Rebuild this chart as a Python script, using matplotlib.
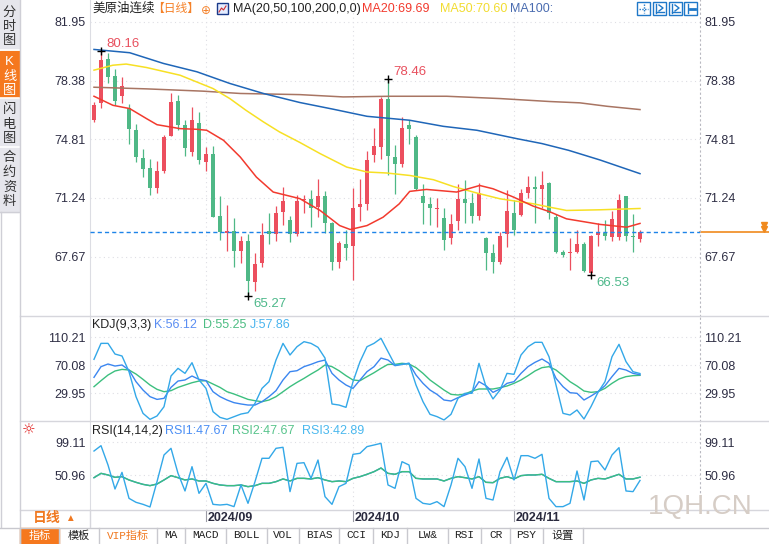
import numpy as np
import matplotlib.pyplot as plt
from matplotlib.patches import Rectangle
from matplotlib.lines import Line2D

plt.rcParams['font.family'] = ['Liberation Sans', 'Noto Sans CJK SC', 'DejaVu Sans']

# daily candles, 美原油连续, Aug - Nov 2024
opens = [75.97, 76.99, 79.69, 78.65, 77.45, 76.74, 75.36, 73.67, 73.06, 71.84,
         72.86, 74.99, 77.13, 75.66, 74.04, 75.81, 73.43, 73.93, 70.17, 69.12,
         69.20, 68.00, 68.65, 66.10, 67.26, 69.20, 69.05, 70.37, 69.87, 69.05,
         71.10, 71.19, 70.68, 71.39, 69.73, 67.33, 68.44, 68.30, 70.68, 70.87,
         73.85, 74.34, 77.25, 73.73, 73.28, 75.66, 74.95, 71.39, 70.85, 70.54,
         70.03, 68.79, 69.83, 71.19, 70.93, 70.17, 68.81, 67.87, 67.33, 69.05,
         70.32, 70.21, 71.54, 71.90, 71.76, 72.17, 70.11, 67.98, 67.88, 67.98,
         68.45, 66.66, 68.99, 69.12, 68.85, 68.89, 71.35, 68.95, 68.75]
highs = [77.09, 80.16, 80.05, 79.06, 78.61, 76.95, 75.72, 74.24, 73.63, 73.47,
         75.05, 77.60, 77.49, 75.97, 76.78, 76.48, 74.34, 74.38, 71.39, 70.84,
         70.03, 68.90, 69.05, 67.87, 69.71, 70.30, 70.78, 71.90, 70.17, 71.45,
         71.40, 71.74, 72.37, 71.64, 69.77, 68.60, 69.30, 71.86, 72.41, 74.10,
         75.52, 77.39, 78.46, 74.44, 76.17, 75.97, 75.05, 72.06, 71.29, 71.23,
         70.62, 70.27, 72.06, 72.31, 71.54, 72.15, 68.89, 68.44, 69.16, 71.74,
         71.09, 71.80, 72.59, 72.55, 72.88, 72.21, 70.28, 68.10, 68.81, 69.30,
         68.55, 68.99, 69.71, 69.87, 70.42, 71.50, 71.39, 70.24, 69.26]
lows = [75.87, 76.72, 78.21, 76.88, 76.99, 74.55, 73.43, 72.51, 71.43, 71.54,
        72.76, 74.99, 75.40, 73.77, 73.77, 73.33, 72.88, 70.07, 68.69, 68.04,
        67.06, 67.26, 65.27, 65.56, 67.02, 68.45, 68.60, 69.60, 68.55, 68.90,
        70.30, 69.46, 70.07, 69.10, 66.88, 66.96, 67.47, 66.25, 69.83, 70.48,
        73.43, 73.63, 72.65, 71.50, 73.12, 74.55, 71.70, 69.66, 69.60, 69.46,
        68.10, 68.44, 69.26, 69.70, 69.70, 69.87, 66.86, 66.65, 67.22, 68.28,
        69.01, 70.17, 71.25, 69.70, 70.62, 69.97, 67.88, 67.67, 66.86, 67.90,
        66.72, 66.53, 68.30, 68.70, 68.60, 68.69, 68.60, 67.98, 68.55]
closes = [76.88, 79.63, 78.61, 77.15, 78.04, 75.44, 73.73, 73.02, 71.84, 72.86,
          74.95, 77.09, 75.66, 74.28, 75.97, 73.57, 73.93, 70.11, 69.16, 69.20,
          68.04, 68.60, 66.17, 67.22, 69.01, 69.05, 70.30, 71.03, 69.05, 71.03,
          71.20, 70.64, 71.39, 69.71, 67.33, 68.50, 68.20, 70.64, 70.89, 73.57,
          74.38, 77.25, 73.77, 73.28, 75.48, 75.44, 71.76, 70.93, 70.62, 70.64,
          68.71, 69.63, 71.19, 70.93, 70.17, 71.56, 67.87, 67.33, 68.95, 70.42,
          69.26, 71.56, 71.90, 71.80, 72.04, 70.34, 67.98, 67.79, 67.90, 68.45,
          66.82, 68.95, 69.12, 68.91, 69.97, 71.09, 68.95, 68.85, 69.15]

# moving averages, sampled at candle positions
ma20_x = [0, 2.7, 5.1, 7.5, 9, 12.3, 14.7, 16.1, 18.5, 20.9, 23.2, 25.6, 29.4, 32.3,
          35.1, 36.6, 39, 41.3, 43.6, 45.1, 47.5, 51.8, 55.1, 57, 59.9, 62.7, 65.1,
          67.5, 72.3, 76.1, 78]
ma20_y = [77.43, 76.88, 76.68, 76.07, 75.70, 75.46, 75.42, 75.36, 74.75, 73.73, 72.51,
          71.60, 71.20, 70.48, 69.56, 69.32, 69.56, 70.07, 70.88, 71.64, 71.76, 71.60,
          72.00, 71.80, 71.30, 70.75, 70.40, 69.97, 69.63, 69.46, 69.69]
ma50_x = [0, 2.7, 4.6, 7.5, 12.3, 17, 19.4, 21.7, 24.2, 26.5, 29.4, 32.3, 36.1, 39,
          41.8, 45.1, 48.5, 51.3, 54.7, 58, 62.7, 65.1, 67.5, 72.3, 78]
ma50_y = [79.02, 79.32, 79.39, 79.18, 78.71, 77.90, 77.29, 76.58, 75.87, 75.26, 74.62,
          73.94, 73.12, 72.82, 72.76, 72.61, 72.35, 71.94, 71.54, 71.19, 70.89, 70.68,
          70.48, 70.52, 70.60]
ma100_x = [0, 5.1, 9.9, 14.7, 19.4, 24.2, 29.4, 34.2, 39, 45.1, 49.9, 54.7, 60.4, 64,
           67.8, 72.3, 78]
ma100_y = [80.28, 80.08, 79.43, 78.92, 78.21, 77.60, 77.05, 76.64, 76.21, 75.97, 75.60,
           75.36, 74.85, 74.55, 74.14, 73.55, 72.72]
ma200_x = [0, 7.5, 15.6, 20.9, 29.4, 35.6, 42.3, 50.4, 58, 65.1, 69.4, 73.3, 78]
ma200_y = [77.98, 77.88, 77.74, 77.60, 77.53, 77.39, 77.43, 77.43, 77.29, 77.11, 77.03,
           76.82, 76.62]

# KDJ(9,3,3)
k_vals = [52.4, 67.7, 71.5, 68.6, 70.1, 62.9, 46.2, 34.2, 24.7, 20.8,
          22.3, 38.0, 47.1, 48.6, 54.3, 49.5, 47.6, 31.8, 24.7, 19.9,
          16.1, 14.2, 12.7, 12.7, 17.5, 24.7, 33.3, 48.6, 60.5, 61.9,
          67.7, 71.0, 74.8, 77.2, 58.1, 48.6, 41.4, 36.6, 48.6, 60.5,
          67.7, 80.0, 77.2, 69.1, 71.0, 72.5, 55.7, 43.8, 34.2, 28.0,
          19.9, 18.5, 23.3, 27.1, 30.9, 46.2, 40.4, 30.9, 35.7, 43.8,
          46.2, 58.1, 67.7, 73.9, 78.7, 72.5, 51.0, 39.0, 30.4, 29.5,
          19.9, 25.6, 31.9, 40.4, 53.4, 65.3, 62.9, 58.1, 56.12]
d_vals = [39.0, 47.6, 55.7, 61.5, 63.8, 62.9, 57.1, 49.5, 41.4, 35.2,
          31.8, 33.3, 38.0, 41.4, 44.7, 47.1, 47.6, 42.8, 38.0, 31.8,
          28.5, 24.7, 20.8, 18.9, 17.5, 19.9, 24.7, 31.8, 39.0, 45.2,
          50.9, 57.1, 62.9, 70.1, 67.7, 61.9, 54.8, 48.6, 47.6, 53.4,
          59.0, 65.3, 71.0, 71.0, 72.5, 71.5, 66.3, 58.1, 48.6, 41.4,
          34.2, 28.0, 27.1, 28.5, 32.8, 35.7, 35.7, 35.7, 37.6, 40.0,
          43.8, 48.6, 54.8, 61.5, 66.3, 67.7, 62.9, 54.8, 46.2, 40.0,
          32.8, 30.9, 31.9, 36.6, 43.8, 50.0, 53.4, 54.8, 55.25]
j_vals = [78.2, 101.1, 101.1, 85.8, 83.0, 60.5, 24.7, 0.8, -7.8, -3.0,
          10.3, 54.3, 65.3, 58.1, 73.4, 48.6, 36.6, 3.2, -5.0, -7.8,
          -4.0, -0.2, 1.7, 15.1, 36.6, 46.2, 77.2, 101.1, 84.4, 96.3,
          103.5, 101.1, 95.4, 80.0, 14.2, 12.7, 9.4, 46.2, 74.8, 96.3,
          101.1, 108.3, 89.2, 70.1, 71.0, 72.5, 41.4, 17.5, -0.6, -3.9,
          -8.7, -0.6, 22.3, 29.5, 29.5, 72.5, 39.0, 21.4, 34.2, 58.1,
          56.7, 84.4, 96.3, 102.6, 102.6, 82.0, 41.4, 0.8, -1.6, 5.6,
          -7.3, 10.4, 30.9, 46.2, 82.0, 99.7, 74.9, 60.5, 57.86]

# RSI(14,14,2): RSI1 and RSI2 are both 14-day, RSI3 is 2-day
rsi_14 = [47.0, 53.4, 51.0, 47.5, 48.5, 43.6, 40.1, 37.1, 35.2, 37.6,
          43.6, 50.0, 47.0, 43.6, 45.1, 42.1, 42.1, 38.6, 36.2, 35.2,
          35.2, 36.2, 33.7, 35.2, 38.6, 38.6, 41.1, 45.1, 42.1, 46.0,
          46.0, 45.1, 47.0, 43.6, 41.1, 42.1, 41.1, 46.0, 48.5, 52.0,
          55.9, 61.3, 53.4, 52.0, 55.9, 55.9, 46.0, 45.1, 45.1, 45.1,
          42.1, 46.0, 48.5, 47.0, 45.1, 48.5, 40.1, 39.6, 46.0, 48.5,
          45.1, 50.0, 51.0, 51.0, 52.0, 46.0, 41.1, 41.1, 41.1, 42.1,
          38.6, 43.6, 46.0, 45.1, 48.5, 52.0, 45.1, 45.1, 47.67]
rsi_2 = [86.5, 94.4, 65.8, 30.2, 54.9, 16.4, 10.5, 7.5, 3.6, 41.1,
         80.6, 90.5, 53.4, 27.3, 63.3, 23.8, 38.6, 7.5, 6.5, 7.5,
         4.1, 36.2, 9.0, 41.1, 75.7, 75.7, 90.5, 92.0, 26.3, 68.2,
         69.2, 46.0, 73.2, 18.9, 7.5, 33.7, 38.6, 81.6, 83.1, 93.0,
         95.4, 97.9, 36.2, 31.2, 70.7, 65.8, 16.4, 9.0, 7.5, 11.5,
         4.1, 36.2, 75.7, 63.3, 31.2, 74.7, 16.4, 13.9, 55.9, 77.1,
         43.6, 79.6, 79.6, 75.7, 81.6, 16.4, 4.1, 4.1, 9.0, 56.9,
         13.9, 70.7, 71.7, 58.4, 80.6, 91.5, 27.3, 26.3, 42.89]

price_ticks = [81.95, 78.38, 74.81, 71.24, 67.67]
kdj_ticks = [110.21, 70.08, 29.95]
rsi_ticks = [99.11, 50.96]
month_idx = [16, 37, 60]
month_labels = ['2024/09', '2024/10', '2024/11']
marked_highs = [1, 42]
marked_lows = [22, 71]

W, H = 769, 544
RED = '#ec4f5e'
GREEN = '#4fb886'
GRID = '#dedee4'

fig = plt.figure(figsize=(W / 100, H / 100), dpi=100)
fig.patch.set_facecolor('white')


def box(x0, y0, x1, y1):
    # pixel box -> figure fractions
    return [x0 / W, 1 - y1 / H, (x1 - x0) / W, (y1 - y0) / H]


def ftext(x, y, s, **kw):
    kw.setdefault('va', 'center')
    fig.text(x / W, 1 - y / H, s, **kw)


def fline(xs, ys, **kw):
    fig.add_artist(Line2D([x / W for x in xs], [1 - y / H for y in ys],
                          transform=fig.transFigure, **kw))


def frect(x0, y0, x1, y1, **kw):
    fig.add_artist(Rectangle((x0 / W, 1 - y1 / H), (x1 - x0) / W, (y1 - y0) / H,
                             transform=fig.transFigure, **kw))


XLIM = (-4 / 7, 606 / 7)


def panel(y0, y1, ylim, ticks):
    ax = fig.add_axes(box(90, y0, 700, y1))
    ax.set_xlim(*XLIM)
    ax.set_ylim(*ylim)
    ax.set_xticks([])
    ax.set_yticks(ticks)
    ax.set_yticklabels(['%.2f' % t for t in ticks])
    ax.tick_params(axis='y', length=0, pad=3, labelsize=9, labelcolor='#2e2e44',
                   labelleft=True, labelright=True)
    ax.spines['top'].set_visible(False)
    ax.spines['bottom'].set_visible(False)
    ax.spines['left'].set_color('#dcdde3')
    ax.spines['right'].set_color('#b8b8c0')
    ax.spines['right'].set_linestyle((0, (1, 3)))
    for t in ticks:
        ax.axhline(t, color=GRID, lw=0.8, ls=(0, (1, 3)), zorder=0)
    for m in month_idx:
        ax.axvline(m, color=GRID, lw=0.8, ls=(0, (1, 3)), zorder=0)
    ax.patch.set_alpha(0)
    return ax


# ---- main candle panel ----
ax = panel(0, 316, (64.056, 83.289), price_ticks)
idx = np.arange(len(closes))
o = np.array(opens)
c = np.array(closes)
colors = np.where(c >= o, RED, GREEN)
ax.vlines(idx, lows, highs, colors=colors, lw=0.9, zorder=2)
ax.bar(idx, np.maximum(np.abs(c - o), 0.06), bottom=np.minimum(o, c), width=0.7,
       color=colors, linewidth=0, zorder=3)

ax.plot(ma200_x, ma200_y, color='#a87563', lw=1.1, zorder=4)
ax.plot(ma100_x, ma100_y, color='#1f66b8', lw=1.1, zorder=4)
ax.plot(ma50_x, ma50_y, color='#f7e024', lw=1.1, zorder=4)
ax.plot(ma20_x, ma20_y, color='#f23a2e', lw=1.1, zorder=4)

last = closes[-1]
ax.axhline(last, color='#1e84e8', lw=1, ls=(0, (3, 2.2)), zorder=5)
ax.plot([XLIM[1], XLIM[1] + 10], [last, last], color='#f08a1e', lw=1.2, clip_on=False)
ax.plot([95.7, 95.7], [last + 0.42, last + 0.18], 'v', color='#f08a1e', ms=4, clip_on=False)

for i in marked_highs:
    ax.plot(i, highs[i], '+', color='black', ms=6, mew=1, zorder=6)
    ax.annotate('%.2f' % highs[i], (i, highs[i]), xytext=(5, 7), textcoords='offset pixels',
                color='#e8505e', fontsize=9.5, ha='left', va='center')
for i in marked_lows:
    ax.plot(i, lows[i], '+', color='black', ms=6, mew=1, zorder=6)
    ax.annotate('%.2f' % lows[i], (i, lows[i]), xytext=(5, -8), textcoords='offset pixels',
                color='#4db88a', fontsize=9.5, ha='left', va='center')

# ---- KDJ panel ----
axk = panel(316, 421, (-10.18, 140.31), kdj_ticks)
axk.plot(idx, d_vals, color='#3cbf7f', lw=1)
axk.plot(idx, k_vals, color='#3b86f0', lw=1)
axk.plot(idx, j_vals, color='#33a8e8', lw=1)

# ---- RSI panel ----
axr = panel(421, 510, (-0.89, 130.96), rsi_ticks)
axr.plot(idx, rsi_14, color='#3b86f0', lw=1)
axr.plot(idx, rsi_14, color='#3cbf7f', lw=1)
axr.plot(idx, rsi_2, color='#33a8e8', lw=1)

# ---- date row ----
axd = fig.add_axes(box(90, 510, 700, 527))
axd.set_xlim(*XLIM)
axd.set_ylim(0, 1)
axd.axis('off')
for m, lab in zip(month_idx, month_labels):
    axd.axvline(m, ymin=0.35, ymax=1, color='#9a9aa4', lw=0.8)
    axd.text(m + 0.2, 0.55, lab, fontsize=9, fontweight='bold', color='#2a2a3e',
             ha='left', va='center')

ftext(700, 507, '1QH.CN', fontsize=20, color='#d6cdc6', ha='center')

# ---- legends ----
ftext(92, 9, '美原油连续', fontsize=9, color='#222222')
ftext(152, 9, '【日线】', fontsize=8.5, color='#f5822a')
ftext(201, 10, '⊕', fontsize=8.5, color='#f5822a', family='DejaVu Sans')
frect(217, 3, 228, 14, facecolor='#e4ecff', edgecolor='#1a3a8a', lw=1)
fline([219, 221.5, 223.5, 226], [12, 8, 10, 6], color='#d03030', lw=0.8)
ftext(233, 9, 'MA(20,50,100,200,0,0)', fontsize=9, color='#222222')
ftext(362, 9, 'MA20:%.2f' % ma20_y[-1], fontsize=9, color='#f23a2e')
ftext(440, 9, 'MA50:%.2f' % ma50_y[-1], fontsize=9, color='#f2dc30')
ftext(510, 9, 'MA100:', fontsize=9, color='#4a6cb0')

for x0 in [637, 653, 669, 684]:
    frect(x0, 2, x0 + 13, 15, facecolor='white', edgecolor='#1f78c8', lw=1)
fline([643.5, 643.5], [4, 13], color='#1f78c8', lw=1, ls=(0, (1, 1)))
fline([639, 648], [8.5, 8.5], color='#1f78c8', lw=1, ls=(0, (1, 1)))
for x0 in [653, 669]:
    fline([x0 + 3, x0 + 3], [4, 13], color='#1f78c8', lw=1)
    fline([x0 + 3, x0 + 11], [12, 12], color='#1f78c8', lw=1)
    fline([x0 + 6, x0 + 10, x0 + 6], [5, 8, 11], color='#1f78c8', lw=1)
fline([688, 688], [4, 13], color='#1f78c8', lw=1)
fline([690, 695], [8.5, 8.5], color='#1f78c8', lw=2)

ftext(92, 325, 'KDJ(9,3,3)', fontsize=9, color='#222222')
ftext(154, 325, 'K:%.2f' % k_vals[-1], fontsize=9, color='#5b8ef2')
ftext(203, 325, 'D:%.2f' % d_vals[-1], fontsize=9, color='#4dbd83')
ftext(250, 325, 'J:%.2f' % j_vals[-1], fontsize=9, color='#4ab4ee')

ftext(29, 430, '☼', fontsize=11, color='#e02020', ha='center', family='DejaVu Sans')
ftext(92, 431, 'RSI(14,14,2)', fontsize=9, color='#222222')
ftext(165, 431, 'RSI1:%.2f' % rsi_14[-1], fontsize=9, color='#4a8ef5')
ftext(232, 431, 'RSI2:%.2f' % rsi_14[-1], fontsize=9, color='#58c48c')
ftext(302, 431, 'RSI3:%.2f' % rsi_2[-1], fontsize=9, color='#4ab8ee')

# ---- frame lines ----
for y in [316, 421, 510]:
    fline([20, 769], [y, y], color='#d6d6dc', lw=1)
fline([0, 769], [527.5, 527.5], color='#c8c8ce', lw=1)

# ---- left sidebar ----
frect(0, 0, 19, 212, color='#e6e6ec')
frect(0, 51, 19, 97, color='#f5781e')
for y in [49.5, 98, 147]:
    fline([0, 19], [y, y], color='white', lw=1.2)
fline([19.5, 19.5], [0, 544], color='#cfcfd6', lw=1)
fline([0.5, 0.5], [212, 527], color='#cfcfd6', lw=1)
fline([0, 19], [212, 212], color='#cfcfd6', lw=1)
side_chars = [('分', 13), ('时', 27), ('图', 41), ('K', 62), ('线', 77), ('图', 91),
              ('闪', 110), ('电', 125), ('图', 139), ('合', 158), ('约', 173),
              ('资', 188), ('料', 202)]
for ch, y in side_chars:
    col = 'white' if 55 < y < 95 else '#333333'
    ftext(9.5, y, ch, fontsize=9.5, color=col, ha='center')

# ---- bottom-left period selector ----
fline([90, 90], [510, 527], color='#d6d6dc', lw=1)
ftext(33, 518, '日线', fontsize=10, color='#f07820', fontweight='bold')
ftext(65, 518, '▲', fontsize=7, color='#f07820')

# ---- indicator toolbar ----
tab_labels = ['指标', '模板', 'VIP指标', 'MA', 'MACD', 'BOLL', 'VOL', 'BIAS', 'CCI',
              'KDJ', 'LW&', 'RSI', 'CR', 'PSY', '设置']
tab_edges = [20, 59, 99, 157, 185, 226, 267, 299, 339, 373, 407, 448, 481, 510, 543, 583]
frect(20, 528, 59, 544, color='#f5781e')
for k, lab in enumerate(tab_labels):
    x0, x1 = tab_edges[k], tab_edges[k + 1]
    col = 'white' if k == 0 else ('#f07820' if k == 2 else '#222222')
    ftext((x0 + x1) / 2, 535.5, lab, fontsize=8, color=col, ha='center',
          family=['Liberation Mono', 'Noto Sans CJK SC'])
for e in tab_edges:
    fline([e, e], [528, 544], color='#c9c9cf', lw=1)

fig.savefig('out.png', dpi=100, facecolor='white')
